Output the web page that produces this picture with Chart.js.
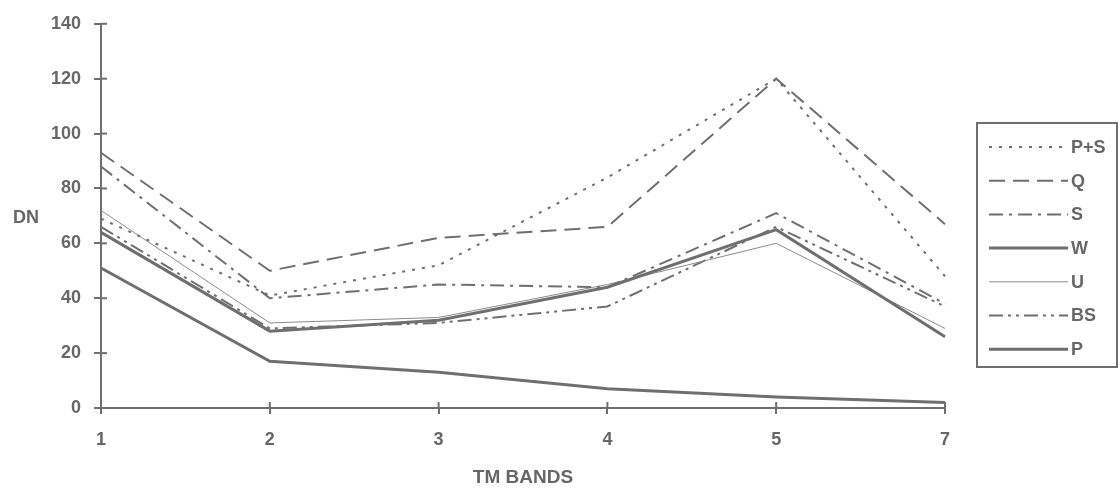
<!DOCTYPE html>
<html>
<head>
<meta charset="utf-8">
<script src="https://cdn.jsdelivr.net/npm/chart.js@4"></script>
<style>
  html, body { margin: 0; padding: 0; background: #fff; }
  #wrap { width: 1120px; height: 489px; }
</style>
</head>
<body>
<div id="wrap"><canvas id="chart" width="1120" height="489"></canvas></div>
<script>
// TM band numbers (band 6 is missing in the source)
const bands = ['1', '2', '3', '4', '5', '7'];

const seriesNames = ['P+S', 'Q', 'S', 'W', 'U', 'BS', 'P'];
const pPlusS = [69, 41, 52, 84, 120, 48];
const qValues = [93, 50, 62, 66, 120, 67];
const sValues = [88, 40, 45, 44, 71, 38];
const wValues = [64, 28, 32, 44, 65, 26];
const uValues = [72, 31, 33, 45, 60, 29];
const bsValues = [66, 29, 31, 37, 66, 37];
const pValues = [51, 17, 13, 7, 4, 2];

const yTicks = [0, 20, 40, 60, 80, 100, 120, 140];

const grey = '#6f6f6f';
const textGrey = '#676767';
const family = '"Liberation Sans", Arial, sans-serif';
const font = { family: family, weight: 'bold', size: 18 };

function line(label, data, width, dash, color) {
    return {
        label: label,
        data: data,
        borderColor: color || grey,
        borderWidth: width,
        borderDash: dash,
        pointRadius: 0,
        fill: false,
        tension: 0
    };
}

// draws the crossing ticks, the horizontal "DN" label and the boxed legend
const extras = {
    id: 'extras',
    afterDraw(chart) {
        const ctx = chart.ctx;
        const x = chart.scales.x;
        const y = chart.scales.y;
        const area = chart.chartArea;
        ctx.save();
        ctx.strokeStyle = grey;
        ctx.lineWidth = 2;
        ctx.setLineDash([]);
        y.ticks.forEach(t => {
            const py = y.getPixelForValue(t.value);
            ctx.beginPath();
            ctx.moveTo(area.left, py);
            ctx.lineTo(area.left + 6, py);
            ctx.stroke();
        });
        bands.forEach((b, i) => {
            const px = x.getPixelForValue(i);
            ctx.beginPath();
            ctx.moveTo(px, area.bottom);
            ctx.lineTo(px, area.bottom - 6);
            ctx.stroke();
        });

        ctx.fillStyle = textGrey;
        ctx.font = 'bold 18px ' + family;
        ctx.textAlign = 'center';
        ctx.textBaseline = 'middle';
        ctx.fillText('DN', 26, 218);

        // legend
        const boxL = 977, boxR = 1117, boxT = 123, boxB = 367;
        ctx.lineWidth = 2;
        ctx.strokeStyle = grey;
        ctx.strokeRect(boxL, boxT, boxR - boxL, boxB - boxT);
        ctx.textAlign = 'left';
        chart.data.datasets.forEach((ds, i) => {
            const ly = 147 + i * 33.7;
            ctx.beginPath();
            ctx.strokeStyle = ds.borderColor;
            ctx.lineWidth = ds.borderWidth;
            ctx.setLineDash(ds.borderDash || []);
            ctx.moveTo(989, ly);
            ctx.lineTo(1068, ly);
            ctx.stroke();
            ctx.setLineDash([]);
            ctx.fillText(ds.label, 1071, ly + 1);
        });
        ctx.restore();
    }
};

const ctx = document.getElementById('chart').getContext('2d');
const chart = new Chart(ctx, {
    type: 'line',
    data: {
        labels: bands,
        datasets: [
            line(seriesNames[0], pPlusS, 2, [3, 7]),
            line(seriesNames[1], qValues, 2, [16, 8]),
            line(seriesNames[2], sValues, 2, [14, 6, 3, 6]),
            line(seriesNames[3], wValues, 3, []),
            line(seriesNames[4], uValues, 1, [], '#8c8c8c'),
            line(seriesNames[5], bsValues, 2, [14, 5, 3, 5, 3, 5]),
            line(seriesNames[6], pValues, 3, [])
        ]
    },
    options: {
        responsive: false,
        animation: false,
        layout: { padding: { left: 0, right: 175, top: 22, bottom: 0 } },
        plugins: {
            legend: { display: false },
            tooltip: { enabled: false }
        },
        scales: {
            x: {
                offset: false,
                grid: { drawOnChartArea: false, tickLength: 6, color: grey, lineWidth: 2 },
                border: { display: true, color: grey, width: 2 },
                ticks: { color: textGrey, font: font, padding: 15, maxRotation: 0 },
                title: {
                    display: true,
                    text: 'TM BANDS',
                    color: textGrey,
                    font: { family: family, weight: 'bold', size: 19 },
                    padding: { top: 0, bottom: 0 }
                },
                afterFit(scale) { scale.height = 81; }
            },
            y: {
                min: 0,
                max: 140,
                afterBuildTicks(scale) { scale.ticks = yTicks.map(v => ({ value: v })); },
                grid: { drawOnChartArea: false, tickLength: 7, color: grey, lineWidth: 2 },
                border: { display: true, color: grey, width: 2 },
                ticks: { color: textGrey, font: font, padding: 13 },
                afterFit(scale) { scale.width = 101; }
            }
        }
    },
    plugins: [extras]
});
</script>
</body>
</html>
